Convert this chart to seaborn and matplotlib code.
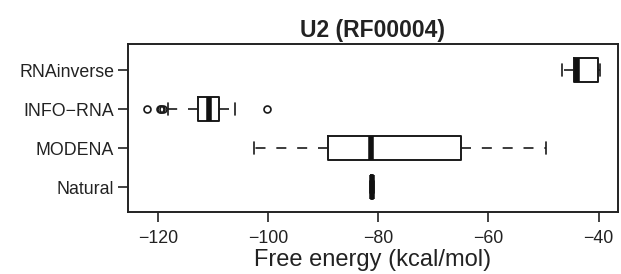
import pandas as pd
import matplotlib
matplotlib.use("Agg")
import matplotlib.pyplot as plt
import seaborn as sns

# Métodos (de cima para baixo)
methods = ["RNAinverse", "INFO\u2212RNA", "MODENA", "Natural"]

# Energias livres (kcal/mol)
rnainverse = [-46.6, -44.4, -44.0, -40.2, -39.8]
info_rna = [-122.0, -119.7, -119.4, -119.1, -118.2, -112.7, -112.2, -111.8,
            -111.4, -111.0, -110.7, -110.4, -110.0, -109.6, -109.2, -108.9,
            -108.3, -107.6, -106.8, -106.0, -100.2]
modena = [-102.5, -89.1, -81.3, -64.9, -49.6]
natural = [-81.5, -81.3, -81.1, -80.9, -80.7]

df = pd.concat([
    pd.DataFrame({"method": methods[0], "energy": rnainverse}),
    pd.DataFrame({"method": methods[1], "energy": info_rna}),
    pd.DataFrame({"method": methods[2], "energy": modena}),
    pd.DataFrame({"method": methods[3], "energy": natural}),
])

sns.set_style("white")
plt.rcParams["font.family"] = ["Liberation Sans", "DejaVu Sans"]

fig = plt.figure(figsize=(6.21, 2.74), dpi=100)
ax = fig.add_axes([0.206, 0.226, 0.789, 0.613])

sns.boxplot(data=df, x="energy", y="method", order=methods, orient="h",
            width=0.62, fill=False, color="#1a1a1a", linewidth=1.1,
            fliersize=5, ax=ax,
            boxprops=dict(color="#1a1a1a", linewidth=1.4),
            whiskerprops=dict(linestyle=(0, (6, 6.5)), color="#1a1a1a", linewidth=1.2),
            capprops=dict(color="#1a1a1a", linewidth=1.2),
            medianprops=dict(color="#111111", linewidth=4, solid_capstyle="butt"),
            flierprops=dict(marker="o", markerfacecolor="none",
                            markeredgecolor="#1a1a1a", markeredgewidth=1.2))

ax.set_xlim(-125.45, -36.5)
ax.set_ylim(3.64, -0.67)
ax.set_xticks([-120, -100, -80, -60, -40])
ax.set_xticklabels(["\u2212120", "\u2212100", "\u221280", "\u221260", "\u221240"])
ax.tick_params(axis="both", direction="out", length=7, width=1.2,
               labelsize=12.8, colors="#222222", bottom=True, left=True)
ax.tick_params(axis="x", pad=6)
ax.tick_params(axis="y", pad=3)

for s in ax.spines.values():
    s.set_visible(True)
    s.set_color("#222222")
    s.set_linewidth(1.4)

ax.set_ylabel("")
ax.set_xlabel("Free energy (kcal/mol)", fontsize=17, color="#222222", labelpad=1)
ax.set_title("U2 (RF00004)", fontsize=16.5, fontweight="bold", color="#222222", pad=5)

fig.savefig("out.png", dpi=100)
